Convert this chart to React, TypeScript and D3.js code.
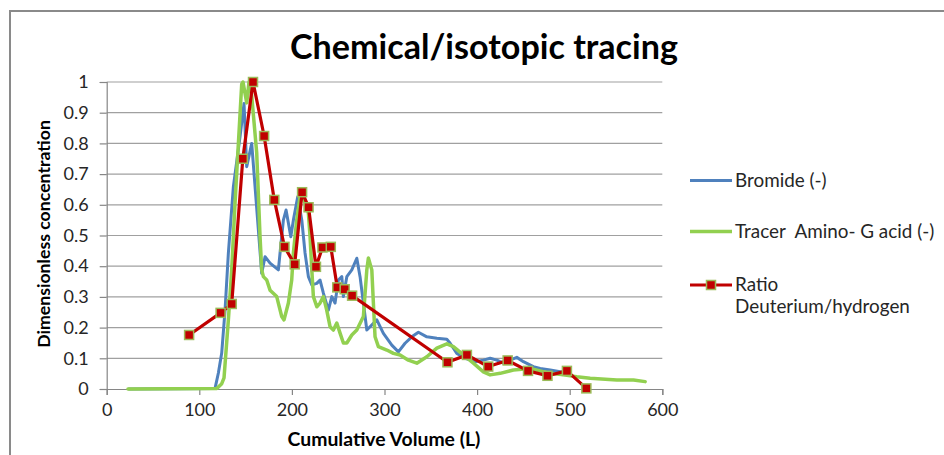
import React, { useEffect, useRef } from "react";
import * as d3 from "d3";

const xTicks = [0, 100, 200, 300, 400, 500, 600];
const yTicks = [0, 0.1, 0.2, 0.3, 0.4, 0.5, 0.6, 0.7, 0.8, 0.9, 1];
const yTickLabels = ["0", "0.1", "0.2", "0.3", "0.4", "0.5", "0.6", "0.7", "0.8", "0.9", "1"];

const bromideVolume = [24, 117, 120.6, 124.2, 127.8, 131.4, 136.8, 144, 148.3, 151.2, 156.6, 167.4, 171, 176.4, 185.4, 187.2, 190.8, 193.7, 196.2, 198.8, 201.6, 206.3, 210.7, 214.2, 217.8, 221.5, 226.9, 230.4, 234, 239.4, 243.1, 246.6, 250.2, 253.9, 255.6, 259.3, 264.7, 270.1, 273.6, 277.2, 280.9, 284.4, 291.7, 298.8, 307.9, 315, 322.2, 329.5, 336.6, 345.7, 356.5, 367.3, 370.9, 378.1, 387.1, 397.9, 406.8, 414.1, 421.3, 428.4, 435.7, 442.9, 450, 460.8, 468.1, 478.9, 489.7, 496];
const bromideValue = [0, 0.002, 0.052, 0.117, 0.257, 0.443, 0.659, 0.822, 0.93, 0.724, 0.8, 0.377, 0.431, 0.41, 0.388, 0.443, 0.55, 0.583, 0.541, 0.496, 0.55, 0.626, 0.55, 0.443, 0.366, 0.339, 0.344, 0.355, 0.312, 0.257, 0.301, 0.28, 0.355, 0.366, 0.301, 0.366, 0.388, 0.426, 0.366, 0.28, 0.192, 0.203, 0.225, 0.181, 0.143, 0.121, 0.149, 0.17, 0.185, 0.17, 0.165, 0.162, 0.149, 0.116, 0.1, 0.089, 0.094, 0.1, 0.094, 0.084, 0.094, 0.103, 0.089, 0.073, 0.067, 0.062, 0.056, 0.052];

const tracerVolume = [23, 119, 124, 126.7, 131.4, 135, 138.6, 141.8, 145.8, 147.2, 151.2, 153.7, 155.3, 162, 165.6, 167.4, 169.2, 172.8, 176.4, 183.6, 189, 191.5, 196.2, 199.8, 201.6, 205.2, 208.8, 210.7, 214.2, 217.8, 219.6, 221.5, 223.2, 226.9, 230.4, 234, 237.6, 241.2, 244.8, 248.5, 252, 255.6, 259.3, 264.7, 270.1, 277.2, 280.9, 282.6, 286.3, 288, 289.8, 293.4, 302.5, 309.6, 316.8, 325.8, 334.9, 345.7, 356.5, 367.3, 374.4, 385.2, 396, 406.8, 414.1, 424.9, 439.2, 457.3, 478.9, 493.3, 507.7, 522.1, 550.9, 568.9, 581.5];
const tracerValue = [0, 0.002, 0.016, 0.036, 0.225, 0.388, 0.606, 0.778, 0.993, 1, 0.932, 1, 1, 0.769, 0.496, 0.388, 0.366, 0.355, 0.322, 0.301, 0.236, 0.225, 0.28, 0.355, 0.443, 0.55, 0.626, 0.638, 0.606, 0.573, 0.496, 0.388, 0.301, 0.268, 0.28, 0.301, 0.257, 0.203, 0.192, 0.215, 0.182, 0.15, 0.15, 0.176, 0.192, 0.236, 0.388, 0.427, 0.388, 0.28, 0.17, 0.138, 0.127, 0.116, 0.111, 0.094, 0.084, 0.105, 0.133, 0.147, 0.138, 0.111, 0.084, 0.056, 0.046, 0.051, 0.062, 0.067, 0.051, 0.046, 0.04, 0.035, 0.029, 0.029, 0.024];

const ratioVolume = [89, 123, 135, 147, 158, 170, 181, 192, 203, 211, 218, 226, 233, 242, 249, 257, 265, 368, 389, 412, 433, 455, 476, 497, 518];
const ratioValue = [0.176, 0.248, 0.277, 0.75, 1.0, 0.824, 0.616, 0.463, 0.406, 0.641, 0.592, 0.398, 0.461, 0.463, 0.331, 0.325, 0.304, 0.087, 0.111, 0.073, 0.093, 0.059, 0.043, 0.059, 0.002];

const seriesNames = ["Bromide (-)", "Tracer  Amino- G acid (-)", "Ratio", "Deuterium/hydrogen"];

const FONT = "Lato, 'Open Sans', sans-serif";
const BLUE = "#4F81BD";
const GREEN = "#92D050";
const RED = "#C00000";
const MARKER_EDGE = "#9BBB59";

export default function App() {
  const ref = useRef<SVGSVGElement>(null);

  useEffect(() => {
    const svgEl = ref.current;
    if (!svgEl) return;
    const draw = () => {
      const svg = d3.select(svgEl);
      svg.selectAll("*").remove();
      const x = d3.scaleLinear().domain([0, 600]).range([106.7, 662.3]);
      const y = d3.scaleLinear().domain([0, 1]).range([389, 82]);

      const fit = (t: any, w: number) => {
        const node = t.node() as SVGTextElement;
        const l = node.getComputedTextLength();
        const fs = parseFloat(t.attr("font-size"));
        if (l > 0) t.attr("font-size", (fs * w) / l);
        return parseFloat(t.attr("font-size"));
      };

      svg.append("rect").attr("x", 0).attr("y", 0).attr("width", 944).attr("height", 455).attr("fill", "#fff");
      svg.append("rect").attr("x", 10).attr("y", 11).attr("width", 960).attr("height", 470)
        .attr("fill", "none").attr("stroke", "#8a8a8a").attr("stroke-width", 2);

      // gridlines
      svg.append("g").selectAll("line").data(yTicks.slice(1)).join("line")
        .attr("x1", x(0)).attr("x2", x(600)).attr("y1", (d) => y(d)).attr("y2", (d) => y(d))
        .attr("stroke", "#a0a0a0").attr("stroke-width", 1.2);

      // y axis
      const yAxis = svg.append("g").attr("transform", `translate(${x(0)},0)`)
        .call(d3.axisLeft(y).tickValues(yTicks).tickFormat((_d, i) => yTickLabels[i]).tickSize(7).tickPadding(11));
      yAxis.select(".domain").attr("stroke", "#868686").attr("stroke-width", 1.2);
      yAxis.selectAll(".tick line").attr("stroke", "#868686").attr("stroke-width", 1.2);
      yAxis.selectAll(".tick text").attr("font-family", FONT).attr("font-size", 18).attr("fill", "#262626");

      // x axis
      const xAxis = svg.append("g").attr("transform", `translate(0,${y(0)})`)
        .call(d3.axisBottom(x).tickValues(xTicks).tickFormat(d3.format("d")).tickSize(6).tickPadding(8));
      xAxis.select(".domain").attr("stroke", "#868686").attr("stroke-width", 1.2);
      xAxis.selectAll(".tick line").attr("stroke", "#868686").attr("stroke-width", 1.2);
      xAxis.selectAll(".tick text").attr("font-family", FONT).attr("font-size", 18).attr("fill", "#262626");

      const line = d3.line<[number, number]>().x((d) => x(d[0])).y((d) => y(d[1]));
      const bro = bromideVolume.map((v, i) => [v, bromideValue[i]] as [number, number]);
      const tra = tracerVolume.map((v, i) => [v, tracerValue[i]] as [number, number]);
      const rat = ratioVolume.map((v, i) => [v, ratioValue[i]] as [number, number]);

      svg.append("path").attr("d", line(bro)).attr("fill", "none").attr("stroke", BLUE)
        .attr("stroke-width", 3).attr("stroke-linejoin", "round").attr("stroke-linecap", "round");
      svg.append("path").attr("d", line(tra)).attr("fill", "none").attr("stroke", GREEN)
        .attr("stroke-width", 3.5).attr("stroke-linejoin", "round").attr("stroke-linecap", "round");
      svg.append("path").attr("d", line(rat)).attr("fill", "none").attr("stroke", RED)
        .attr("stroke-width", 3.2).attr("stroke-linejoin", "round").attr("stroke-linecap", "round");
      svg.append("g").selectAll("rect").data(rat).join("rect")
        .attr("x", (d) => x(d[0]) - 4.5).attr("y", (d) => y(d[1]) - 4.5)
        .attr("width", 9).attr("height", 9)
        .attr("fill", RED).attr("stroke", MARKER_EDGE).attr("stroke-width", 1.5);

      // title
      const title = svg.append("text").attr("x", 484).attr("y", 59).attr("text-anchor", "middle")
        .attr("font-family", FONT).attr("font-weight", "bold").attr("font-size", 30).attr("fill", "#000")
        .text("Chemical/isotopic tracing");
      fit(title, 388);

      const xt = svg.append("text").attr("x", 384).attr("y", 446).attr("text-anchor", "middle")
        .attr("font-family", FONT).attr("font-weight", "bold").attr("font-size", 17).attr("fill", "#000")
        .text("Cumulative Volume (L)");
      fit(xt, 193);

      const yt = svg.append("text").attr("transform", "translate(50,234) rotate(-90)").attr("text-anchor", "middle")
        .attr("font-family", FONT).attr("font-weight", "bold").attr("font-size", 17).attr("fill", "#000")
        .text("Dimensionless concentration");
      fit(yt, 228);

      // legend
      const lg = svg.append("g");
      lg.append("line").attr("x1", 690).attr("x2", 732).attr("y1", 180.5).attr("y2", 180.5).attr("stroke", BLUE).attr("stroke-width", 3);
      lg.append("line").attr("x1", 690).attr("x2", 732).attr("y1", 231.5).attr("y2", 231.5).attr("stroke", GREEN).attr("stroke-width", 3.5);
      lg.append("line").attr("x1", 690).attr("x2", 732).attr("y1", 285).attr("y2", 285).attr("stroke", RED).attr("stroke-width", 3.2);
      lg.append("rect").attr("x", 711 - 4.5).attr("y", 285 - 4.5).attr("width", 9).attr("height", 9)
        .attr("fill", RED).attr("stroke", MARKER_EDGE).attr("stroke-width", 1.5);

      const ref2 = lg.append("text").attr("x", 735).attr("y", 313).attr("font-family", FONT).attr("font-size", 18)
        .attr("fill", "#262626").text(seriesNames[3]);
      const lfs = fit(ref2, 175);
      const rows: [string, number][] = [[seriesNames[0], 187], [seriesNames[1], 238], [seriesNames[2], 291]];
      rows.forEach(([t, yy]) => {
        lg.append("text").attr("x", 735).attr("y", yy).attr("font-family", FONT).attr("font-size", lfs)
          .attr("fill", "#262626").style("white-space", "pre").text(t);
      });
    };
    if ((document as any).fonts && (document as any).fonts.ready) {
      (document as any).fonts.ready.then(draw);
    } else draw();
    draw();
  }, []);

  return (
    <svg ref={ref} width={944} height={455}
      style={{ position: "absolute", left: 0, top: 0, display: "block" }} />
  );
}
